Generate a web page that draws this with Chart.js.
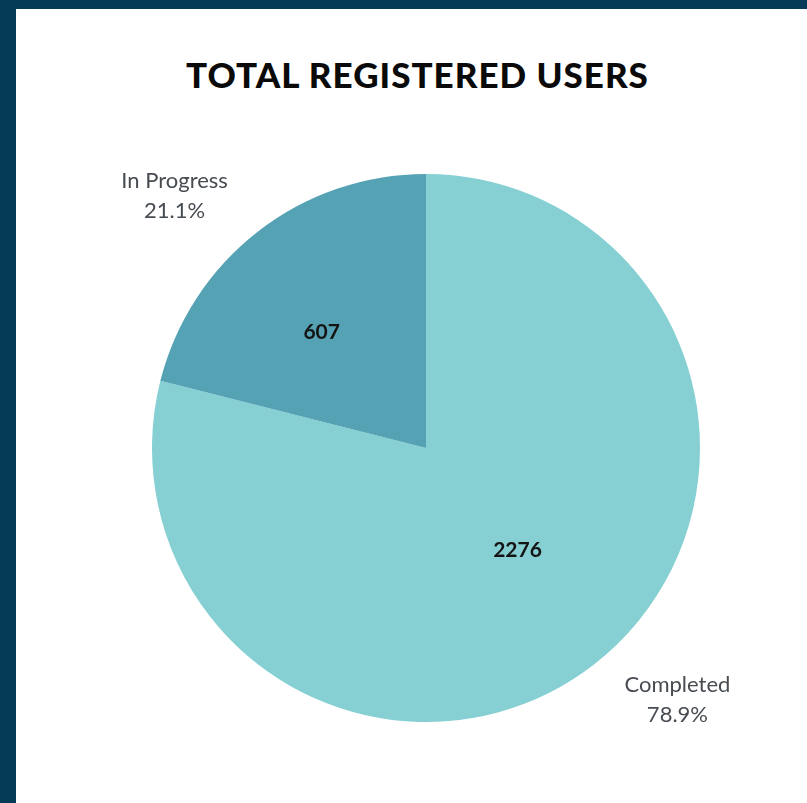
<!DOCTYPE html>
<html>
<head>
<meta charset="utf-8">
<script src="https://cdn.jsdelivr.net/npm/chart.js@4.4.1/dist/chart.umd.min.js"></script>
<style>
  html, body { margin: 0; padding: 0; background: #063b58; }
  .panel { position: absolute; left: 16px; top: 9px; width: 791px; height: 794px; background: #fff; }
  .title {
    position: absolute; left: 12px; right: 0; top: 48px;
    text-align: center; font: 900 35px/35px Lato, sans-serif; color: #0a0a0a;
    letter-spacing: 1px;
  }
  .wrap { position: absolute; left: 0; top: 0; width: 791px; height: 794px; }
</style>
</head>
<body>
<div class="panel">
  <div class="title">TOTAL REGISTERED USERS</div>
  <div class="wrap"><canvas id="pie"></canvas></div>
</div>
<script>
// données
const labels = ["Completed", "In Progress"];
const values = [2276, 607];
const percents = ["78.9%", "21.1%"];
const colors = ["#86d0d3", "#55a2b5"];

// rótulos dentro e fora das fatias
const sliceLabels = {
  id: "sliceLabels",
  afterDatasetsDraw(chart, args, opts) {
    const ctx = chart.ctx;
    const meta = chart.getDatasetMeta(0);
    meta.data.forEach((arc, i) => {
      const p = arc.getProps(["x", "y", "startAngle", "endAngle", "outerRadius"], true);
      const mid = (p.startAngle + p.endAngle) / 2;

      // valor dentro
      const a1 = mid + opts.innerShift * Math.PI / 180;
      const r1 = p.outerRadius * opts.innerPos[i];
      ctx.save();
      ctx.textAlign = "center";
      ctx.textBaseline = "middle";
      ctx.font = "bold 21px Lato";
      ctx.fillStyle = "#141414";
      ctx.fillText(String(values[i]), p.x + Math.cos(a1) * r1, p.y + Math.sin(a1) * r1);

      // nome + percentual fora
      const a2 = mid + opts.outerShift * Math.PI / 180;
      const r2 = p.outerRadius * opts.outerPos;
      const x2 = p.x + Math.cos(a2) * r2;
      const y2 = p.y + Math.sin(a2) * r2;
      ctx.font = "22px Lato";
      ctx.fillStyle = "#474c53";
      ctx.fillText(labels[i], x2, y2 - 15);
      ctx.fillText(percents[i], x2, y2 + 15);
      ctx.restore();
    });
  }
};

new Chart(document.getElementById("pie").getContext("2d"), {
  type: "pie",
  data: {
    labels: labels,
    datasets: [{
      data: values,
      backgroundColor: colors,
      borderWidth: 0
    }]
  },
  options: {
    responsive: true,
    maintainAspectRatio: false,
    animation: false,
    layout: { padding: { top: 165, bottom: 81, left: 136, right: 107 } },
    plugins: {
      legend: { display: false },
      tooltip: { enabled: false },
      sliceLabels: { innerPos: [0.5, 0.57], innerShift: -4, outerPos: 1.3, outerShift: -7 }
    }
  },
  plugins: [sliceLabels]
});
</script>
</body>
</html>
